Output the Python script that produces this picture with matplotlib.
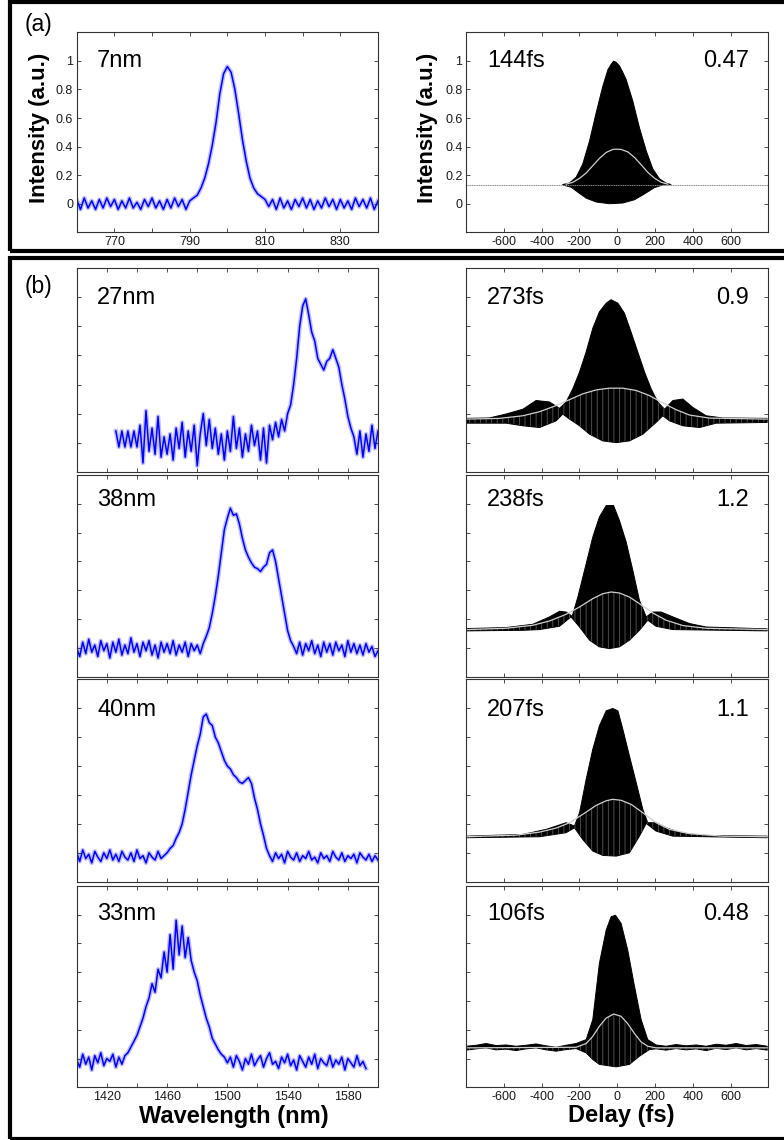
import numpy as np
import matplotlib
matplotlib.use('Agg')
import matplotlib.pyplot as plt
from matplotlib.patches import Rectangle, Polygon

plt.rcParams['font.family'] = ['Liberation Sans', 'DejaVu Sans']
plt.rcParams['hatch.linewidth'] = 0.6

# ---------------- data ----------------
# (a) spectrum, 1 nm steps from 760 to 840 nm (values in 1/100)
wl_a = np.arange(760, 841, 1)
spec_a = np.array([
    3, -4, 4, -3, 2, -4, 3, -3, 4, -2, 3, -4, 2, -3, 4, -3, 1, -4, 3, -2, 4, -3, 2, -4, 3, -3, 4, -2, 3, -4, 2,
    4, 6, 11, 18, 28, 41, 57, 77, 91, 96, 92, 80, 63, 45, 30, 18, 11, 7, 5, 3,
    -2, 3, -4, 4, -3, 2, -4, 3, -2, 4, -3, 3, -4, 2, -3, 4, -2, 3, -4, 3, -3, 2, -4, 4, -2, 3, -3, 4, -4, 2]) / 100

# (b) spectra, 2 nm steps (values in 1/100)
wl_27 = np.arange(1426, 1601, 2)
spec_27 = np.array([
    8, -3, 8, -3, 8, -3, 8, -3,
    12, -14, 22, -6, 10, -8, 18, -10, 4, -8, 6, -12, 10, -4, 14, -10, 8, -6, 12, -16, 6, 20,
    -2, 16, -4, 10, -8, 6, -12, 8, -6, 18, -4, 10, -10, 6, -6, 12, -2, 8, -12, 10, -14, 12, 2, 14, 4, 16, 8,
    20, 26, 40, 58, 80, 94, 99, 88, 76, 70, 58, 54, 50, 56, 58, 64, 58, 52, 40, 30, 18, 10, 4,
    -8, 8, -10, 6, -6, 12, -4, 8]) / 100

wl_38 = np.arange(1400, 1601, 2)
spec_38 = np.array([
    0, -6, 4, -4, 6, -3, 2, -6, 5, -2, 3, -7, 4, -3, 6, -5, 2, -4, 7, -3, 3, -6, 4, -2, 5, -5, 2, -7, 4, -3,
    3, -4, 5, -5, 2, -3, 4, -6, 3, -2, 2, -4, 3,
    8, 14, 24, 36, 50, 66, 82, 90, 97, 92, 93, 86, 76, 68, 63, 59, 56, 55, 53, 56, 58, 66, 68, 60, 48, 36,
    24, 12, 5, 1,
    -4, 4, -5, 3, -2, 5, -4, 2, -6, 4, -3, 3, -5, 4, -2, 2, -6, 5, -3, 3, -4, 2, -5, 3, -3, 1, -6, -2]) / 100

wl_40 = np.arange(1400, 1601, 2)
spec_40 = np.array([
    0, -6, 2, -4, -1, -7, 1, -3, -6, 0, -4, 2, -5, -1, -6, 1, -3, -5, 0, -6, 2, -4, -2, -7, 0, -3, -5, 1, -4, -2,
    0, 3, 5, 10, 14, 20, 30, 42, 54, 64, 74, 82, 94, 96, 90, 88, 80, 76, 70, 64, 60, 58, 54, 52, 49, 48,
    50, 52, 48, 38, 30, 20, 12, 3,
    -2, -6, 0, -4, -1, -7, 1, -3, -5, 0, -6, -2, -4, 1, -5, -3, -7, 0, -4, -2, -6, 1, -3, -5, 0, -6, -2,
    -4, -1, -7, 0, -3, -5, -1, -6, -2, -5]) / 100

wl_33 = np.arange(1400, 1593, 2)
spec_33 = np.array([
    -1, -6, 3, -4, 1, -8, 2, -3, 4, -5, 0, -2, 3, -6, 1, -4, 2,
    4, 8, 12, 16, 22, 28, 36, 42, 52, 46, 62, 56, 74, 60, 86, 62, 96, 72, 92, 70, 84, 68, 60, 54, 44, 36,
    28, 22, 14, 10, 6, 3, 1,
    -3, 1, -6, 2, -2, -8, 0, -4, 3, -5, -1, 2, -6, 0, 4, -4, -2, -7, 1, -3, 3, -5, -1, -8, 2, -2, -6, 1,
    -4, 3, -7, 0, -3, -5, 2, -6, -1, -4, 1, -8, 0, -3, -6, 2, -5, -2, -7]) / 100

# autocorrelations: upper / lower envelope of the fringes and intensity trace
ac144_up_t = [-288, -252, -217, -182, -146, -111, -76, -49, -32, -19, -5, 12, 30, 48, 83, 118, 154,
              189, 224, 259, 286]
ac144_up_v = [0.134, 0.146, 0.185, 0.278, 0.44, 0.637, 0.822, 0.938, 0.975, 0.998, 0.99, 0.965, 0.92,
              0.868, 0.718, 0.532, 0.37, 0.243, 0.174, 0.144, 0.134]
ac144_lo_t = [-288, -244, -208, -164, -111, -41, 30, 92, 145, 198, 242, 286]
ac144_lo_v = [0.132, 0.116, 0.081, 0.039, 0.012, 0.0, 0.005, 0.028, 0.069, 0.113, 0.132, 0.134]
ac144_ia_t = [-270, -235, -199, -164, -129, -94, -58, -23, -5, 21, 56, 92, 127, 162, 198, 233, 268]
ac144_ia_v = [0.137, 0.150, 0.178, 0.215, 0.266, 0.317, 0.359, 0.380, 0.382, 0.380, 0.363, 0.324,
              0.273, 0.220, 0.178, 0.150, 0.137]
ac144_bg = 0.132

ac273_up_t = [-800, -676, -588, -499, -429, -358, -305, -270, -235, -199, -164, -129, -94, -58, -32,
              4, 39, 74, 109, 145, 180, 215, 251, 295, 348, 400, 471, 559, 794]
ac273_up_v = [0.167, 0.17, 0.197, 0.23, 0.29, 0.28, 0.236, 0.28, 0.37, 0.486, 0.625, 0.787, 0.90, 0.96,
              0.984, 0.96, 0.89, 0.76, 0.625, 0.486, 0.37, 0.28, 0.23, 0.29, 0.30, 0.243, 0.185, 0.17, 0.167]
ac273_lo_t = [-800, -588, -499, -411, -323, -288, -252, -199, -146, -76, -5, 65, 136, 206, 242, 277,
              348, 436, 524, 794]
ac273_lo_v = [0.134, 0.134, 0.116, 0.104, 0.15, 0.197, 0.162, 0.116, 0.058, 0.012, 0.0, 0.012, 0.058,
              0.139, 0.185, 0.15, 0.116, 0.104, 0.134, 0.139]
ac273_ia_t = [-800, -623, -499, -411, -323, -252, -182, -111, -41, 30, 101, 171, 242, 312, 383, 489, 794]
ac273_ia_v = [0.162, 0.167, 0.185, 0.213, 0.255, 0.296, 0.336, 0.363, 0.375, 0.375, 0.359, 0.324,
              0.273, 0.227, 0.19, 0.169, 0.162]

ac238_up_t = [-800, -588, -446, -358, -305, -270, -238, -208, -164, -129, -94, -58, -19, 12, 48, 83,
              118, 154, 189, 233, 295, 383, 471, 794]
ac238_up_v = [0.134, 0.141, 0.164, 0.215, 0.254, 0.249, 0.219, 0.353, 0.584, 0.769, 0.908, 0.988,
              0.988, 0.885, 0.734, 0.538, 0.33, 0.215, 0.249, 0.249, 0.215, 0.169, 0.145, 0.132]
ac238_lo_t = [-800, -499, -411, -305, -244, -199, -146, -94, -41, 12, 65, 118, 162, 206, 295, 794]
ac238_lo_v = [0.118, 0.122, 0.127, 0.15, 0.215, 0.145, 0.053, 0.007, -0.005, 0.007, 0.053, 0.122,
              0.192, 0.15, 0.127, 0.118]
ac238_ia_t = [-800, -588, -446, -358, -270, -199, -129, -76, -32, 12, 65, 118, 189, 259, 348, 471, 794]
ac238_ia_v = [0.127, 0.136, 0.157, 0.187, 0.233, 0.284, 0.342, 0.376, 0.388, 0.381, 0.353, 0.307,
              0.242, 0.192, 0.155, 0.136, 0.127]

ac207_up_t = [-800, -499, -376, -270, -226, -199, -164, -129, -94, -58, -23, 4, 30, 65, 101, 136,
              162, 206, 259, 348, 471, 794]
ac207_up_v = [0.115, 0.127, 0.162, 0.208, 0.185, 0.277, 0.508, 0.716, 0.878, 0.982, 0.998, 0.982,
              0.855, 0.67, 0.485, 0.3, 0.208, 0.208, 0.173, 0.134, 0.12, 0.115]
ac207_lo_t = [-800, -411, -270, -226, -182, -129, -76, -5, 65, 118, 154, 206, 295, 794]
ac207_lo_v = [0.104, 0.111, 0.139, 0.173, 0.092, 0.012, -0.018, -0.023, 0.0, 0.115, 0.203, 0.15,
              0.115, 0.104]
ac207_ia_t = [-800, -535, -411, -323, -252, -182, -111, -58, -23, 21, 74, 136, 206, 277, 383, 559, 794]
ac207_ia_v = [0.111, 0.122, 0.143, 0.171, 0.208, 0.266, 0.328, 0.36, 0.37, 0.363, 0.335, 0.277,
              0.208, 0.162, 0.132, 0.115, 0.111]

ac106_up_t = [-800, -746, -693, -641, -588, -535, -482, -429, -376, -323, -270, -217, -164, -129, -94,
              -58, -32, -9, 21, 56, 92, 127, 162, 206, 259, 312, 365, 418, 471, 524, 577, 630, 683,
              736, 794]
ac106_up_v = [0.085, 0.092, 0.104, 0.09, 0.094, 0.085, 0.092, 0.101, 0.088, 0.078, 0.092, 0.104, 0.131,
              0.27, 0.661, 0.892, 0.984, 0.995, 0.938, 0.753, 0.5, 0.27, 0.131, 0.094, 0.085, 0.097,
              0.088, 0.094, 0.085, 0.099, 0.092, 0.104, 0.09, 0.097, 0.085]
ac106_lo_t = [-800, -746, -693, -641, -588, -535, -482, -429, -376, -323, -270, -217, -164, -129, -94,
              -5, 65, 118, 171, 206, 259, 312, 365, 418, 471, 524, 577, 630, 683, 736, 794]
ac106_lo_v = [0.058, 0.067, 0.074, 0.06, 0.065, 0.055, 0.067, 0.074, 0.06, 0.051, 0.062, 0.069, 0.039,
              -0.007, -0.041, -0.058, -0.041, 0.016, 0.062, 0.067, 0.058, 0.069, 0.06, 0.067, 0.055,
              0.071, 0.062, 0.074, 0.06, 0.069, 0.058]
ac106_ia_t = [-800, -217, -164, -129, -94, -58, -18, 21, 56, 92, 127, 162, 206, 794]
ac106_ia_v = [0.074, 0.078, 0.104, 0.154, 0.224, 0.281, 0.309, 0.293, 0.242, 0.173, 0.115, 0.085,
              0.074, 0.074]

spec_labels = ['7nm', '27nm', '38nm', '40nm', '33nm']
fwhm_labels = ['144fs', '273fs', '238fs', '207fs', '106fs']
tbp_labels = ['0.47', '0.9', '1.2', '1.1', '0.48']

# ---------------- layout (pixels of the 784x1140 image) ----------------
W, H = 784, 1140
LEFT_X = (76.7, 378.0)
RIGHT_X = (466.0, 768.3)
ROWS = [(32.3, 232.3), (268.3, 471.7), (475.0, 676.7), (679.3, 881.7), (885.7, 1087.3)]
TEXT_Y = [0.825, 0.823, 0.848, 0.818, 0.83]
BLUE = '#0000ff'


def add_ax(fig, xs, ys):
    return fig.add_axes([xs[0] / W, 1 - ys[1] / H, (xs[1] - xs[0]) / W, (ys[1] - ys[0]) / H])


def style(ax, show_y):
    for s in ax.spines.values():
        s.set_linewidth(0.8)
        s.set_color('#333333')
    ax.tick_params(direction='in', length=3, width=0.6, top=True, right=True,
                   labelsize=9, pad=2.5, colors='#333333', labelcolor='#1a1a1a')
    ax.set_ylim(-0.2, 1.2)
    ax.set_yticks([0, 0.2, 0.4, 0.6, 0.8, 1.0])
    if show_y:
        ax.set_yticklabels(['0', '0.2', '0.4', '0.6', '0.8', '1'])
    else:
        ax.set_yticklabels([])


def draw_spec(ax, wl, sp):
    # soft halo + core line, like the noisy measured trace
    ax.plot(wl, sp, color=BLUE, lw=3.2, alpha=0.25, solid_joinstyle='round')
    ax.plot(wl, sp, color=BLUE, lw=1.1)


def draw_ac(ax, up_t, up_v, lo_t, lo_v, ia_t, ia_v, fringes=True):
    xy = np.column_stack([np.r_[up_t, lo_t[::-1]], np.r_[up_v, lo_v[::-1]]])
    body = Polygon(xy, closed=True, facecolor='black', edgecolor='black', lw=0.7)
    ax.add_patch(body)
    if fringes:
        xy2 = np.column_stack([np.r_[ia_t, lo_t[::-1]], np.r_[ia_v, lo_v[::-1]]])
        streaks = Polygon(xy2, closed=True, facecolor='none', edgecolor='#5a5a5a',
                          hatch='|||', lw=0)
        ax.add_patch(streaks)
        streaks.set_clip_path(body)
    ax.plot(ia_t, ia_v, color='#cfcfcf', lw=0.9)


def main():
    fig = plt.figure(figsize=(W / 100, H / 100), dpi=100)

    # frames around (a) and (b)
    fig.add_artist(Rectangle((10.3 / W, 1 - 250.8 / H), 1.2, (250.8 - 2.5) / H,
                             transform=fig.transFigure, fill=False, lw=3, ec='black', clip_on=False))
    fig.add_artist(Rectangle((10.3 / W, 1 - 1138.5 / H), 1.2, (1138.5 - 258) / H,
                             transform=fig.transFigure, fill=False, lw=3, ec='black', clip_on=False))
    fig.text(39 / W, 1 - 25 / H, '(a)', fontsize=16.5, ha='center', va='center')
    fig.text(39 / W, 1 - 287 / H, '(b)', fontsize=16.5, ha='center', va='center')

    spectra = [(wl_a, spec_a), (wl_27, spec_27), (wl_38, spec_38), (wl_40, spec_40), (wl_33, spec_33)]
    acs = [(ac144_up_t, ac144_up_v, ac144_lo_t, ac144_lo_v, ac144_ia_t, ac144_ia_v),
           (ac273_up_t, ac273_up_v, ac273_lo_t, ac273_lo_v, ac273_ia_t, ac273_ia_v),
           (ac238_up_t, ac238_up_v, ac238_lo_t, ac238_lo_v, ac238_ia_t, ac238_ia_v),
           (ac207_up_t, ac207_up_v, ac207_lo_t, ac207_lo_v, ac207_ia_t, ac207_ia_v),
           (ac106_up_t, ac106_up_v, ac106_lo_t, ac106_lo_v, ac106_ia_t, ac106_ia_v)]

    for i, ys in enumerate(ROWS):
        # spectrum
        ax = add_ax(fig, LEFT_X, ys)
        draw_spec(ax, *spectra[i])
        style(ax, i == 0)
        if i == 0:
            ax.set_xlim(760, 840)
            ax.set_xticks(np.arange(770, 831, 10))
            ax.set_xticklabels(['770', '', '790', '', '810', '', '830'])
        else:
            ax.set_xlim(1400, 1600)
            ax.set_xticks(np.arange(1420, 1581, 20))
            if i == 4:
                ax.set_xticklabels(['1420', '', '1460', '', '1500', '', '1540', '', '1580'])
            else:
                ax.set_xticklabels([])
        ax.text(0.068, TEXT_Y[i], spec_labels[i], transform=ax.transAxes, fontsize=17,
                ha='left', va='baseline')
        if i == 0:
            ax.text(-0.125, 0.52, 'Intensity (a.u.)', transform=ax.transAxes, rotation=90,
                    fontsize=16, fontweight='bold', ha='center', va='center')
        if i == 4:
            ax.text(0.522, -0.147, 'Wavelength (nm)', transform=ax.transAxes, fontsize=17,
                    fontweight='bold', ha='center', va='center')

        # autocorrelation
        ax = add_ax(fig, RIGHT_X, ys)
        if i == 0:
            ax.axhline(ac144_bg, color='#8a8a8a', lw=0.8, ls=(0, (1, 0.6)))
        draw_ac(ax, *acs[i], fringes=(i > 0))
        style(ax, i == 0)
        ax.set_xlim(-800, 800)
        ax.set_xticks(np.arange(-600, 601, 200))
        if i in (0, 4):
            ax.set_xticklabels([str(v) for v in range(-600, 601, 200)])
        else:
            ax.set_xticklabels([])
        ax.text(0.07, TEXT_Y[i], fwhm_labels[i], transform=ax.transAxes, fontsize=17,
                ha='left', va='baseline')
        ax.text(0.935, TEXT_Y[i], tbp_labels[i], transform=ax.transAxes, fontsize=17,
                ha='right', va='baseline')
        if i == 0:
            ax.text(-0.129, 0.52, 'Intensity (a.u.)', transform=ax.transAxes, rotation=90,
                    fontsize=16, fontweight='bold', ha='center', va='center')
        if i == 4:
            ax.text(0.512, -0.138, 'Delay (fs)', transform=ax.transAxes, fontsize=17,
                    fontweight='bold', ha='center', va='center')

    fig.savefig('out.png', dpi=100)


if __name__ == '__main__':
    main()
